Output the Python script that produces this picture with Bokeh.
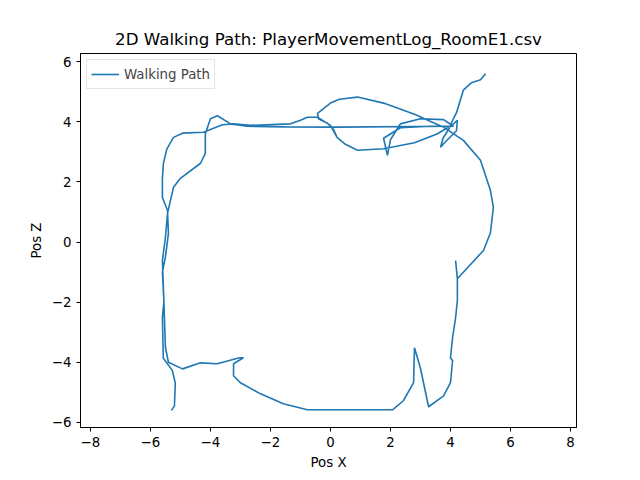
import numpy as np
from bokeh.plotting import figure
from bokeh.models import FixedTicker, Range1d
from bokeh.embed import file_html
from bokeh.resources import INLINE

nan = float("nan")
pos_x = [-5.3, -5.2, -5.17, -5.27, -5.57, -5.6, -5.55, -5.6, -5.5, -5.4, -5.43, -5.6, -5.6, -5.57, -5.45, -5.23, -4.93, -4.23, -3.6, -3.23, -2.67, -1.33, -1.0, -0.77, -0.43, 0.0, 0.22, 0.5, 0.9, 1.77, 2.8, 3.57, 4.1, 4.23, 4.2, 3.8, 3.67, 3.75, 4.0, 3.3, 2.33, 1.77, 1.9, 2.0, 2.33, 3.0, 3.77, 4.1,
         nan, 4.1, 0.17, -1.5, -2.77, -3.33, -3.77, -4.0, -4.17, -4.17, -4.33, -5.0, -5.23, -5.43, -5.5, -5.6, -5.55, -5.5, -5.4, -4.93, -4.33, -3.77, -3.03, -2.9, -3.23, -3.23, -3.0, -2.33, -1.57, -0.77, 2.07, 2.43, 2.77, 2.8, 3.0, 3.27, 3.77, 4.0, 4.07, 4.0, 4.07, 4.17, 4.23, 4.23, 4.17,
         nan, 4.23, 5.1, 5.33, 5.43, 5.33, 5.0, 4.43, 3.77, 2.8, 1.77, 0.9, 0.3, 0.0, -0.43, -0.4, -0.1, 0.1, 0.22,
         nan, 4.0, 4.2, 4.43, 4.7, 5.0, 5.17]
pos_z = [-5.6, -5.45, -4.7, -4.27, -3.87, -2.5, -2.0, -1.0, -0.5, 0.28, 1.05, 1.48, 2.1, 2.6, 3.1, 3.48, 3.62, 3.65, 3.9, 3.93, 3.88, 3.93, 4.05, 4.15, 4.15, 3.88, 3.48, 3.25, 3.05, 3.1, 3.3, 3.6, 3.93, 4.05, 3.7, 3.3, 3.15, 3.45, 3.85, 3.85, 3.8, 3.45, 2.88, 3.4, 3.93, 4.1, 4.07, 3.85,
         nan, 3.85, 3.82, 3.83, 3.85, 3.93, 4.2, 4.1, 3.6, 2.95, 2.62, 2.12, 1.82, 0.95, 0.15, -0.62, -2.0, -3.5, -4.0, -4.22, -4.02, -4.05, -3.85, -3.85, -4.05, -4.45, -4.68, -5.05, -5.38, -5.58, -5.58, -5.28, -4.68, -3.52, -4.2, -5.48, -5.12, -4.68, -3.95, -3.85, -3.18, -2.52, -1.95, -1.22, -0.62,
         nan, -1.22, -0.28, 0.3, 1.15, 1.72, 2.72, 3.38, 3.82, 4.25, 4.62, 4.82, 4.75, 4.62, 4.28, 4.1, 3.95, 3.75, 3.48,
         nan, 3.9, 4.3, 5.05, 5.3, 5.4, 5.6]

p = figure(width=640, height=480, output_backend="svg", toolbar_location=None,
           title="2D Walking Path: PlayerMovementLog_RoomE1.csv",
           x_range=Range1d(-8.33, 8.2), y_range=Range1d(-6.17, 6.27),
           min_border_left=80, min_border_right=64, min_border_top=53, min_border_bottom=53)
p.title.align = "center"
p.title.text_font = "DejaVu Sans"
p.title.text_font_size = "12.5pt"
p.title.text_font_style = "normal"
p.title.text_color = "black"
p.line(pos_x, pos_z, line_color="#1f77b4", line_width=1.6, legend_label="Walking Path")
p.xgrid.visible = False
p.ygrid.visible = False
p.xaxis.ticker = FixedTicker(ticks=[-8, -6, -4, -2, 0, 2, 4, 6, 8])
p.yaxis.ticker = FixedTicker(ticks=[-6, -4, -2, 0, 2, 4, 6])
p.xaxis.axis_label = "Pos X"
p.yaxis.axis_label = "Pos Z"
for ax in (p.xaxis, p.yaxis):
    ax.axis_label_text_font = "DejaVu Sans"
    ax.axis_label_text_font_style = "normal"
    ax.axis_label_text_font_size = "10pt"
    ax.axis_label_text_color = "black"
    ax.major_label_text_font = "DejaVu Sans"
    ax.major_label_text_font_size = "10pt"
    ax.major_label_text_color = "black"
    ax.minor_tick_line_color = None
    ax.major_tick_in = 0
    ax.major_tick_out = 4
    ax.axis_line_color = "black"
    ax.major_tick_line_color = "black"
p.outline_line_color = "black"
p.legend.location = "top_left"
p.legend.label_text_font = "DejaVu Sans"
p.legend.label_text_font_size = "10pt"
p.legend.border_line_color = "#cccccc"
p.legend.margin = 6
p.legend.padding = 4
p.legend.spacing = 0
p.legend.glyph_width = 28

open("out.html", "w").write(file_html(p, INLINE))
